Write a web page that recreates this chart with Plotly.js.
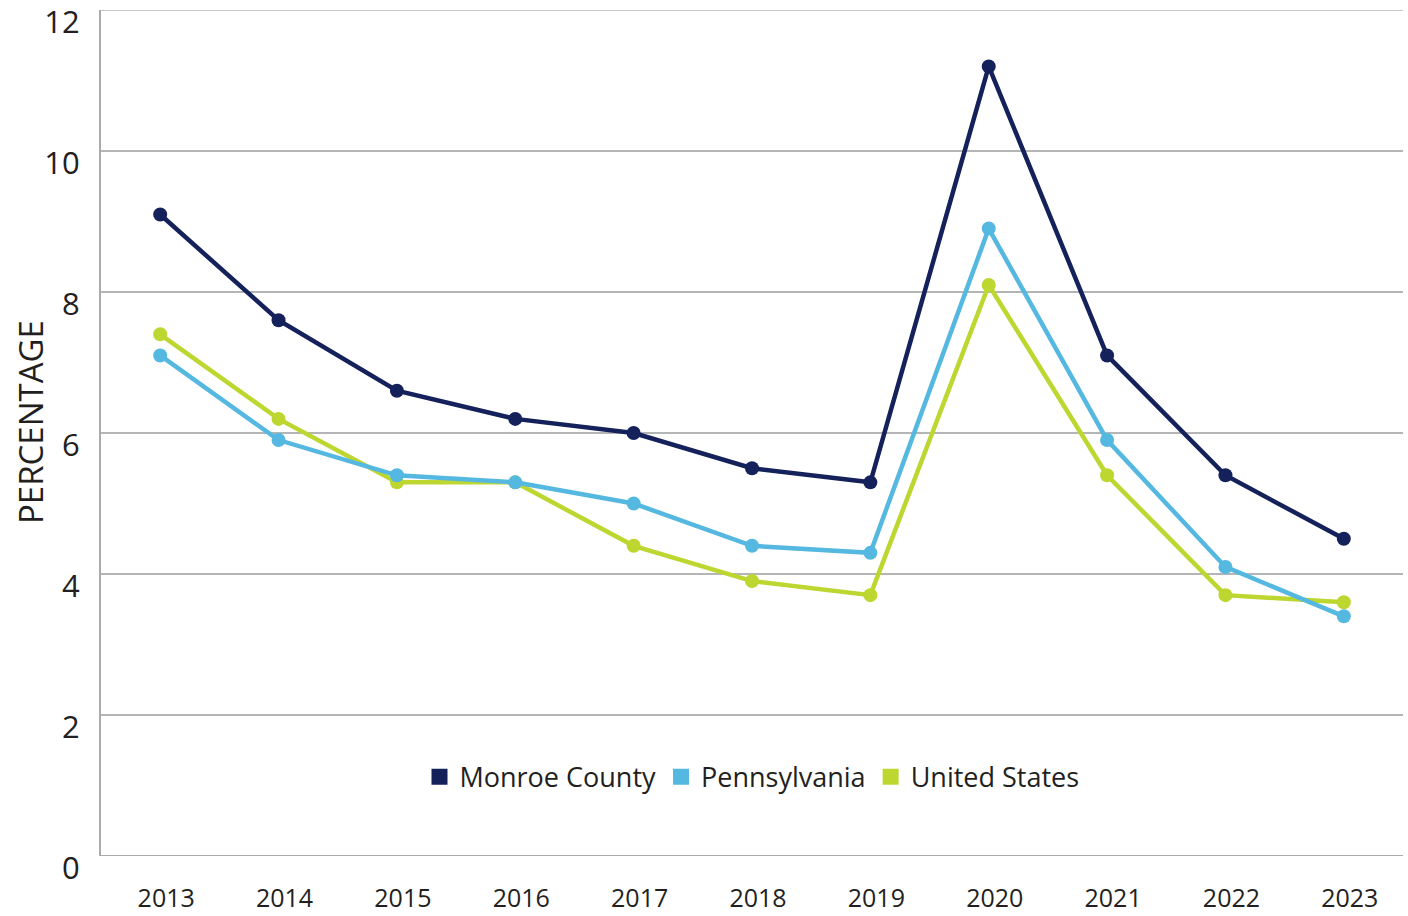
<!DOCTYPE html>
<html>
<head>
<meta charset="utf-8">
<script src="https://cdn.plot.ly/plotly-3.0.1.min.js"></script>
<style>html,body{margin:0;padding:0;background:#fff;}#chart{width:1408px;height:916px;}</style>
</head>
<body>
<div id="chart"></div>
<script>
const years = ['2013','2014','2015','2016','2017','2018','2019','2020','2021','2022','2023'];
const monroeCounty = [9.1, 7.6, 6.6, 6.2, 6.0, 5.5, 5.3, 11.2, 7.1, 5.4, 4.5];
const pennsylvania = [7.1, 5.9, 5.4, 5.3, 5.0, 4.4, 4.3, 8.9, 5.9, 4.1, 3.4];
const unitedStates = [7.4, 6.2, 5.3, 5.3, 4.4, 3.9, 3.7, 8.1, 5.4, 3.7, 3.6];
const seriesNames = ['Monroe County', 'Pennsylvania', 'United States'];
const yTicks = [0, 2, 4, 6, 8, 10, 12];
const yTitle = 'PERCENTAGE';

const colors = ['#14215a', '#55b8e0', '#bdd630'];
const seriesData = [monroeCounty, pennsylvania, unitedStates];

const traces = [];
// draw order: US, PA, Monroe on top
[2, 1, 0].forEach(i => {
  traces.push({
    x: years, y: seriesData[i], type: 'scatter', mode: 'lines+markers',
    name: seriesNames[i], showlegend: false,
    line: {color: colors[i], width: 4.5},
    marker: {color: colors[i], size: 14},
    cliponaxis: false
  });
});
[0, 1, 2].forEach(i => {
  traces.push({
    x: [years[0]], y: [null], type: 'scatter', mode: 'markers',
    name: seriesNames[i], showlegend: true,
    marker: {color: colors[i], size: 17, symbol: 'square'}
  });
});

const font = 'Open Sans, Lato, sans-serif';
const layout = {
  width: 1408, height: 916,
  margin: {l: 101, r: 5, t: 10, b: 60},
  paper_bgcolor: '#fff', plot_bgcolor: '#fff',
  font: {family: font, color: '#231f20'},
  showlegend: true,
  legend: {
    orientation: 'h', x: 0.5, xanchor: 'center', y: 0.093, yanchor: 'middle',
    font: {size: 27, color: '#231f20', family: font}, itemgap: 24,
    bgcolor: 'rgba(0,0,0,0)'
  },
  xaxis: {
    type: 'category', range: [-0.5, 10.5],
    showgrid: false, zeroline: false,
    showline: false, ticks: '',
    tickfont: {size: 25, color: '#231f20'},
    ticklabelstandoff: 25, ticklabelshift: 6
  },
  yaxis: {
    range: [0, 12], tickvals: yTicks, ticktext: yTicks.map(String),
    showgrid: true, gridcolor: '#b3b5b7', gridwidth: 1.5,
    zeroline: false, showline: true, linecolor: '#a9abad', linewidth: 2,
    ticks: '', tickfont: {size: 31, color: '#231f20'},
    ticklabelstandoff: 13, ticklabelshift: 12, ticklabeloverflow: 'allow'
  },
  annotations: [
    {text: yTitle, xref: 'paper', yref: 'paper', x: -0.0545, y: 0.513,
     xanchor: 'center', yanchor: 'middle', textangle: -90, showarrow: false,
     font: {size: 33, color: '#231f20', family: font}}
  ],
  shapes: [
    {type: 'line', xref: 'paper', yref: 'y', x0: 0, x1: 1, y0: 0, y1: 0,
     line: {color: '#a9abad', width: 2}, layer: 'below'},
    {type: 'line', xref: 'paper', yref: 'y', x0: 0, x1: 1, y0: 12, y1: 12,
     line: {color: '#b3b5b7', width: 1.5}, layer: 'below'}
  ]
};

Plotly.newPlot('chart', traces, layout, {displayModeBar: false, staticPlot: true});
</script>
</body>
</html>
